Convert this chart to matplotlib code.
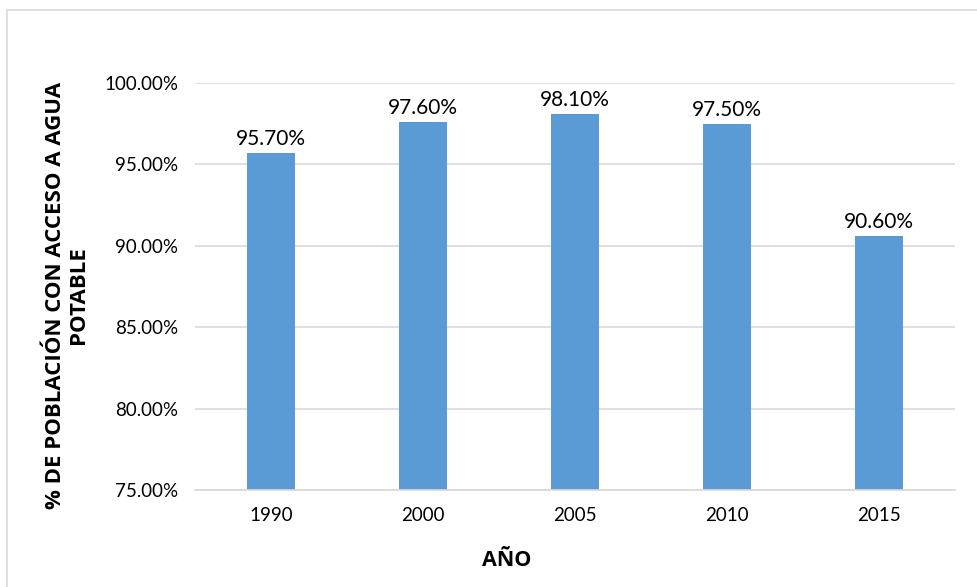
import matplotlib.pyplot as plt
from matplotlib.patches import Rectangle
from matplotlib.ticker import FuncFormatter

plt.rcParams['font.family'] = ['Lato', 'DejaVu Sans']

# data
years = ['1990', '2000', '2005', '2010', '2015']
access = [95.7, 97.6, 98.1, 97.5, 90.6]

fig = plt.figure(figsize=(9.77, 5.87), dpi=100)
ax = fig.add_axes([0.1996, 0.165, 0.7779, 0.6936])

bars = ax.bar(years, access, width=0.316, color='#5B9BD5')
ax.set_xlim(-0.5, len(years) - 0.5)
ax.set_ylim(75, 100)
ax.set_yticks([75, 80, 85, 90, 95, 100])
ax.yaxis.set_major_formatter(FuncFormatter(lambda v, p: f'{v:.2f}%'))
ax.grid(axis='y', color='#D9D9D9', linewidth=1.2)
ax.set_axisbelow(True)
for s in ['top', 'right', 'left']:
    ax.spines[s].set_visible(False)
ax.spines['bottom'].set_color('#D9D9D9')
ax.spines['bottom'].set_linewidth(1.2)
ax.tick_params(length=0, labelsize=13.5, colors='#000000')
ax.tick_params(axis='x', pad=12)
ax.tick_params(axis='y', pad=12)

for b, v in zip(bars, access):
    ax.annotate(f'{v:.2f}%', (b.get_x() + b.get_width() / 2, v),
                xytext=(0, 3), textcoords='offset points',
                ha='center', va='bottom', fontsize=15)

bold = ['Open Sans', 'DejaVu Sans']
fig.text(507 / 977, 1 - 560 / 587, 'AÑO', ha='center', va='center',
         fontsize=15.5, fontweight='bold', family=bold)
fig.text(67 / 977, 1 - 295 / 587, '% DE POBLACIÓN CON ACCESO A AGUA\nPOTABLE',
         ha='center', va='center', rotation=90, fontsize=16,
         fontweight='bold', family=bold, linespacing=1.1)

# chart frame
fig.patches.append(Rectangle((7 / 977, -0.01), 1.0, 1 - 10 / 587 + 0.01,
                             transform=fig.transFigure, fill=False,
                             edgecolor='#D9D9D9', linewidth=1.2))

fig.savefig('out.png', dpi=100)
